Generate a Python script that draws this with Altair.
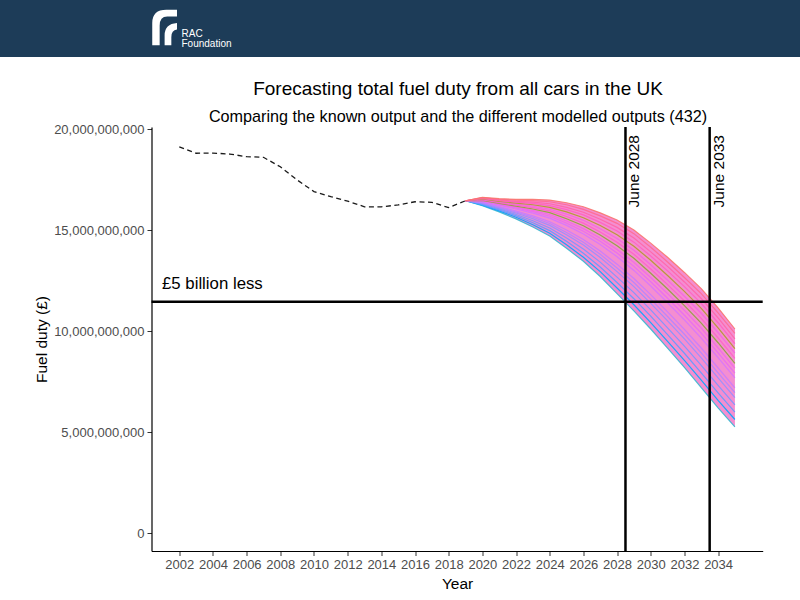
import altair as alt
import pandas as pd

# ---------------- data ----------------
hist_years = list(range(2002, 2020))
hist_duty_bn = [19.12, 18.80, 18.81, 18.76, 18.63, 18.60, 18.13, 17.48, 16.90,
                16.65, 16.43, 16.15, 16.15, 16.24, 16.40, 16.37, 16.11, 16.45]

model_years = list(range(2019, 2036))
# a selection of the modelled runs (billions), from top of the fan to bottom
run_a = [16.45, 16.62, 16.55, 16.52, 16.52, 16.48, 16.35, 16.15, 15.85, 15.50, 15.00, 14.35, 13.65, 12.90, 12.10, 11.15, 10.10]
run_k = [16.45, 16.60, 16.52, 16.48, 16.46, 16.40, 16.25, 16.02, 15.70, 15.33, 14.82, 14.15, 13.42, 12.65, 11.85, 10.90, 9.88]
run_b = [16.45, 16.58, 16.48, 16.42, 16.38, 16.30, 16.12, 15.88, 15.53, 15.13, 14.60, 13.92, 13.20, 12.43, 11.61, 10.65, 9.61]
run_r = [16.45, 16.56, 16.45, 16.38, 16.32, 16.21, 16.01, 15.75, 15.38, 14.95, 14.40, 13.71, 12.98, 12.20, 11.37, 10.41, 9.37]
run_c = [16.45, 16.54, 16.42, 16.33, 16.25, 16.12, 15.90, 15.61, 15.22, 14.77, 14.20, 13.50, 12.75, 11.96, 11.12, 10.16, 9.13]
run_l = [16.45, 16.52, 16.39, 16.28, 16.18, 16.03, 15.79, 15.48, 15.06, 14.58, 14.00, 13.28, 12.52, 11.72, 10.88, 9.92, 8.90]
run_d = [16.45, 16.49, 16.35, 16.23, 16.11, 15.95, 15.67, 15.34, 14.90, 14.40, 13.80, 13.07, 12.30, 11.49, 10.63, 9.66, 8.64]
run_q = [16.45, 16.47, 16.32, 16.18, 16.04, 15.86, 15.56, 15.21, 14.75, 14.22, 13.60, 12.86, 12.08, 11.26, 10.39, 9.42, 8.40]
run_e = [16.45, 16.45, 16.29, 16.13, 15.97, 15.77, 15.45, 15.07, 14.59, 14.04, 13.40, 12.65, 11.85, 11.02, 10.14, 9.17, 8.16]
run_m = [16.45, 16.43, 16.26, 16.09, 15.91, 15.68, 15.34, 14.94, 14.44, 13.86, 13.20, 12.44, 11.62, 10.78, 9.90, 8.92, 7.92]
run_f = [16.45, 16.41, 16.23, 16.04, 15.84, 15.59, 15.23, 14.80, 14.28, 13.68, 13.00, 12.23, 11.40, 10.55, 9.65, 8.68, 7.68]
run_g = [16.45, 16.37, 16.16, 15.94, 15.70, 15.41, 15.00, 14.53, 13.96, 13.31, 12.60, 11.80, 10.95, 10.08, 9.16, 8.18, 7.19]
run_n = [16.45, 16.35, 16.12, 15.89, 15.63, 15.32, 14.88, 14.40, 13.80, 13.12, 12.40, 11.58, 10.72, 9.84, 8.92, 7.93, 6.95]
run_h = [16.45, 16.33, 16.09, 15.84, 15.56, 15.23, 14.77, 14.26, 13.64, 12.94, 12.20, 11.37, 10.50, 9.61, 8.67, 7.68, 6.70]
run_o = [16.45, 16.30, 16.05, 15.77, 15.46, 15.10, 14.61, 14.06, 13.41, 12.67, 11.90, 11.05, 10.16, 9.25, 8.30, 7.31, 6.34]
run_i = [16.45, 16.26, 16.00, 15.70, 15.36, 14.97, 14.44, 13.85, 13.17, 12.40, 11.60, 10.74, 9.82, 8.90, 7.93, 6.94, 5.98]
run_p = [16.45, 16.23, 15.95, 15.63, 15.26, 14.84, 14.27, 13.65, 12.94, 12.13, 11.30, 10.42, 9.49, 8.55, 7.57, 6.57, 5.62]
run_j = [16.45, 16.20, 15.90, 15.55, 15.15, 14.70, 14.10, 13.45, 12.70, 11.85, 11.00, 10.10, 9.15, 8.20, 7.20, 6.20, 5.25]
run_names = ["j", "p", "i", "o", "h", "n", "g", "f", "m", "e", "q", "d", "l", "c", "r", "b", "k", "a"]
run_values = [run_j, run_p, run_i, run_o, run_h, run_n, run_g, run_f, run_m, run_e,
              run_q, run_d, run_l, run_c, run_r, run_b, run_k, run_a]
run_colors = ["#35B8D0", "#00A9FF", "#619CFF", "#7997FF", "#9590FF", "#B385FF",
              "#C77CFF", "#D575FE", "#E76BF3", "#EF67EB", "#8FA33A", "#FF61C9",
              "#F564E3", "#B39A2A", "#FF61C3", "#FF65A8", "#FF6C91", "#F8766D"]

ref_level_bn = 11.45
milestones = [2028.5, 2033.5]
milestone_labels = ["June 2028", "June 2033"]

# ---------------- tables ----------------
hist_df = pd.DataFrame({"year": hist_years, "duty": [v * 1e9 for v in hist_duty_bn]})
rows = []
for idx, (name, vals) in enumerate(zip(run_names, run_values)):
    for yr, v in zip(model_years, vals):
        rows.append({"run": name, "k": idx, "year": yr, "duty": v * 1e9})
runs_df = pd.DataFrame(rows)
band_df = pd.DataFrame({"year": model_years,
                        "duty": [v * 1e9 for v in run_j],
                        "upper": [v * 1e9 for v in run_a]})
ms_df = pd.DataFrame({"year": milestones, "label": milestone_labels})
ref_df = pd.DataFrame({"duty": [ref_level_bn * 1e9]})
one = pd.DataFrame({"k": [0]})

FONT = "Liberation Sans"
L, T = 151.5, 127  # plot origin inside the page

x_scale = alt.Scale(domain=[2000.35, 2036.65], nice=False, zero=False)
y_scale = alt.Scale(domain=[-0.89e9, 20.1e9], nice=False, zero=False)
x_axis = alt.Axis(values=list(range(2002, 2035, 2)), format="d", title="Year",
                  labelFlush=False, labelOverlap=False)
y_axis = alt.Axis(values=[0, 5e9, 10e9, 15e9, 20e9], format=",.0f", title="Fuel duty (£)")

X = alt.X("year:Q", scale=x_scale, axis=x_axis)
Y = alt.Y("duty:Q", scale=y_scale, axis=y_axis)

band = alt.Chart(band_df).mark_area(color="#F068C2", opacity=0.75).encode(
    x=X, y=Y, y2="upper:Q")

runs = alt.Chart(runs_df).mark_line(strokeWidth=1.2, opacity=0.9).encode(
    x=X, y=Y,
    color=alt.Color("run:N", scale=alt.Scale(domain=run_names, range=run_colors), legend=None),
    order=alt.Order("year:Q"))

hist = alt.Chart(hist_df).mark_line(color="#1a1a1a", strokeWidth=1.3, strokeDash=[5, 3.5]).encode(
    x=X, y=Y)

vrules = alt.Chart(ms_df).mark_rule(color="black", strokeWidth=2.5).encode(x=X)
hrule = alt.Chart(ref_df).mark_rule(color="black", strokeWidth=2.5).encode(y=Y)

vlabels = alt.Chart(ms_df).mark_text(angle=270, align="right", baseline="top", dx=-2, dy=2,
                                     font=FONT, fontSize=15.5, color="black").encode(
    x=X, y=alt.value(6), text="label:N")

ref_label = alt.Chart(one).mark_text(text="£5 billion less", align="left", baseline="middle",
                                     font=FONT, fontSize=16.8, color="black").encode(
    x=alt.value(162 - L), y=alt.value(284 - T))

header = alt.Chart(one).mark_rect(color="#1D3C58").encode(
    x=alt.value(-L), x2=alt.value(800 - L), y=alt.value(-T), y2=alt.value(57 - T))

logo_path = ("M -0.75 1 L -0.75 -0.25 Q -0.75 -1 0.05 -1 L 0.65 -1 L 0.65 -0.62 L 0.1 -0.62 "
             "Q -0.33 -0.62 -0.33 -0.1 L -0.33 1 Z "
             "M -0.05 1 L -0.05 0.45 Q -0.05 -0.2 0.65 -0.25 L 0.65 0.12 Q 0.33 0.15 0.33 0.55 L 0.33 1 Z")
logo = alt.Chart(one).mark_point(shape=logo_path, filled=True, color="white", size=1250,
                                 opacity=1, strokeWidth=0).encode(
    x=alt.value(165.5 - L), y=alt.value(27.5 - T))

rac = alt.Chart(one).mark_text(text="RAC", align="left", baseline="alphabetic",
                               font=FONT, fontSize=10, color="white").encode(
    x=alt.value(181.5 - L), y=alt.value(37 - T))
foundation = alt.Chart(one).mark_text(text="Foundation", align="left", baseline="alphabetic",
                                      font=FONT, fontSize=10, color="white").encode(
    x=alt.value(181.5 - L), y=alt.value(47 - T))

title = alt.Chart(one).mark_text(text="Forecasting total fuel duty from all cars in the UK",
                                 align="center", baseline="middle", font=FONT, fontSize=19,
                                 color="black").encode(
    x=alt.value(458 - L), y=alt.value(89 - T))
subtitle = alt.Chart(one).mark_text(
    text="Comparing the known output and the different modelled outputs (432)",
    align="center", baseline="middle", font=FONT, fontSize=16.2, color="black").encode(
    x=alt.value(458 - L), y=alt.value(117 - T))

chart = alt.layer(
    header, logo, rac, foundation, title, subtitle,
    band, runs, hist, hrule, vrules, vlabels, ref_label
).properties(
    width=762.7 - L, height=551 - T,
    autosize=alt.AutoSizeParams(type="none"),
    padding={"left": L, "top": T, "right": 800 - 762.7, "bottom": 600 - 551},
    background="white"
).configure_view(stroke=None).configure_axis(
    grid=False, domainColor="black", domainWidth=1.2, tickColor="#333333", tickSize=4.5,
    tickWidth=1, labelColor="#4D4D4D", labelFont=FONT, labelFontSize=13, labelPadding=3,
    titleFont=FONT, titleFontSize=15.5, titleFontWeight="normal", titleColor="black"
).configure_axisY(titlePadding=4).configure_axisX(titlePadding=5)

chart.save("out.html", embed_options={"renderer": "svg", "actions": False})
